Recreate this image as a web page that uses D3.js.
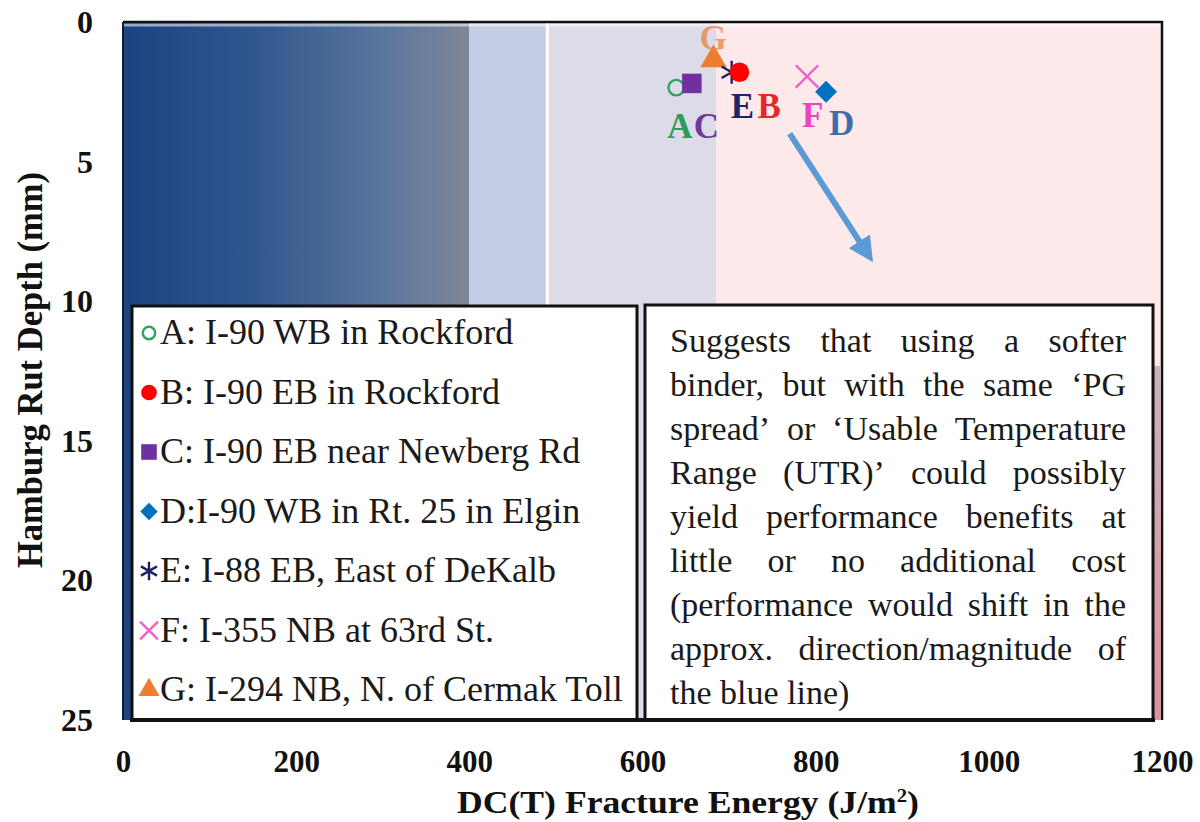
<!DOCTYPE html>
<html>
<head>
<meta charset="utf-8">
<script src="https://cdn.jsdelivr.net/npm/d3@7"></script>
<style>
  html, body { margin: 0; padding: 0; background: #ffffff; }
  svg { display: block; }
  text { font-family: "Liberation Serif", "Times New Roman", serif; }
</style>
</head>
<body>
<svg id="chart" width="1200" height="822" font-family="'Liberation Serif', 'Times New Roman', serif"></svg>
<script>
// ---- data ----
const xTicks = [0, 200, 400, 600, 800, 1000, 1200];
const yTicks = [0, 5, 10, 15, 20, 25];

const siteCodes = ["A", "B", "C", "D", "E", "F", "G"];
const siteNames = [
  "A: I-90 WB in Rockford",
  "B: I-90 EB in Rockford",
  "C: I-90 EB near Newberg Rd",
  "D:I-90 WB in Rt. 25 in Elgin",
  "E: I-88 EB, East of DeKalb",
  "F: I-355 NB at 63rd St.",
  "G: I-294 NB, N. of Cermak Toll"
];
const fractureEnergy = [639, 712, 657, 812, 703, 790, 682];   // J/m²
const rutDepth = [2.35, 1.8, 2.2, 2.5, 1.8, 1.95, 1.35];       // mm

// zone boundaries along the fracture-energy axis
const zoneEdges = [0, 400, 490, 685, 1200];

// suggested shift of performance (start, end)
const shiftX = [770, 868];
const shiftY = [4.0, 8.7];

const noteLines = [
  "Suggests that using a softer",
  "binder, but with the same \u2018PG",
  "spread\u2019 or \u2018Usable Temperature",
  "Range (UTR)\u2019 could possibly",
  "yield performance benefits at",
  "little or no additional cost",
  "(performance would shift in the",
  "approx. direction/magnitude of",
  "the blue line)"
];

// ---- styling ----
const serif = "'Liberation Serif', 'Times New Roman', serif";
const markerColor = ["#2ea35c", "#ff0000", "#7030a0", "#0070c0", "#1f2060", "#f060c8", "#ed7d31"];
const labelColor  = ["#2e9b5b", "#e42828", "#6a3c9c", "#3d6ea8", "#1b2568", "#ee44c0", "#e68a4a"];
const zoneFill = ["url(#zoneGrad)", "#c5cde6", "#dddbe8", "#fde9e9"];

const svg = d3.select("#chart");
const x = d3.scaleLinear().domain([0, 1200]).range([123, 1162]);
const y = d3.scaleLinear().domain([0, 25]).range([22, 720]);

const defs = svg.append("defs");
const zg = defs.append("linearGradient").attr("id", "zoneGrad")
  .attr("x1", "0%").attr("x2", "100%").attr("y1", "0%").attr("y2", "0%");
[["0%", "#1b4381"], ["40%", "#33588f"], ["75%", "#5a769c"], ["100%", "#7f8797"]]
  .forEach(([o, c]) => zg.append("stop").attr("offset", o).attr("stop-color", c));
const sg = defs.append("linearGradient").attr("id", "edgeGrad")
  .attr("x1", "0%").attr("x2", "0%").attr("y1", "0%").attr("y2", "100%");
[["0%", "#c9b4bb"], ["100%", "#d9939c"]]
  .forEach(([o, c]) => sg.append("stop").attr("offset", o).attr("stop-color", c));

// ---- background zones ----
const zones = d3.range(zoneEdges.length - 1).map(i => ({ x0: zoneEdges[i], x1: zoneEdges[i + 1], fill: zoneFill[i] }));
svg.append("g").selectAll("rect").data(zones).join("rect")
  .attr("x", d => x(d.x0))
  .attr("width", d => x(d.x1) - x(d.x0))
  .attr("y", y(0))
  .attr("height", y(25) - y(0))
  .attr("fill", d => d.fill);

// white divider at the 490 boundary
svg.append("line")
  .attr("x1", x(zoneEdges[2])).attr("x2", x(zoneEdges[2]))
  .attr("y1", y(0)).attr("y2", y(25))
  .attr("stroke", "#ffffff").attr("stroke-width", 3);

// light rim along the top of the plot area
svg.append("line")
  .attr("x1", x(0)).attr("x2", x(1200)).attr("y1", y(0) + 3).attr("y2", y(0) + 3)
  .attr("stroke", "#ffffff").attr("stroke-opacity", 0.55).attr("stroke-width", 3);

// plot frame (top and right)
svg.append("path")
  .attr("d", `M${x(0)},${y(0)} H${x(1200)} V${y(25)}`)
  .attr("fill", "none").attr("stroke", "#111").attr("stroke-width", 2.5);
svg.append("line")
  .attr("x1", x(0)).attr("x2", x(0)).attr("y1", y(0)).attr("y2", y(25))
  .attr("stroke", "#0e1f3c").attr("stroke-width", 2);

// ---- axes ----
const xAxis = svg.append("g").attr("transform", `translate(0,${y(25) + 52})`)
  .call(d3.axisBottom(x).tickValues(xTicks).tickSize(0).tickFormat(d3.format("d")));
xAxis.select(".domain").remove();
xAxis.selectAll("text")
  .attr("dy", 0).attr("y", 0)
  .style("font-family", serif)
  .style("font-size", "31px").style("font-weight", "bold").attr("fill", "#111");

const yAxis = svg.append("g").attr("transform", "translate(93,0)")
  .call(d3.axisLeft(y).tickValues(yTicks).tickSize(0).tickFormat(d3.format("d")));
yAxis.select(".domain").remove();
yAxis.selectAll("text")
  .attr("x", 0).attr("dy", "0.33em")
  .style("font-family", serif)
  .style("font-size", "32px").style("font-weight", "bold").attr("fill", "#111");

const xTitle = svg.append("text")
  .attr("x", 688).attr("y", 813)
  .attr("text-anchor", "middle")
  .style("font-family", serif)
  .style("font-size", "31px").style("font-weight", "bold").attr("fill", "#111")
  .attr("textLength", 462).attr("lengthAdjust", "spacingAndGlyphs");
xTitle.append("tspan").text("DC(T) Fracture Energy (J/m");
xTitle.append("tspan").text("2").attr("dy", -11).style("font-size", "18px");
xTitle.append("tspan").text(")").attr("dy", 11);

svg.append("text")
  .attr("transform", "translate(42,370) rotate(-90)")
  .attr("text-anchor", "middle")
  .style("font-family", serif)
  .style("font-size", "36px").style("font-weight", "bold").attr("fill", "#111")
  .attr("textLength", 396).attr("lengthAdjust", "spacingAndGlyphs")
  .text("Hamburg Rut Depth (mm)");

// ---- marker shapes ----
const shapeOf = [
  { type: d3.symbolCircle, size: 190, fill: false },
  { type: d3.symbolCircle, size: 300, fill: true },
  { type: d3.symbolSquare, size: 380, fill: true },
  { type: d3.symbolSquare, size: 240, fill: true, rot: 45 },
  { type: d3.symbolAsterisk, size: 380, fill: false },
  { type: d3.symbolTimes, size: 330, fill: false },
  { type: d3.symbolTriangle, size: 300, fill: true }
];
function drawMarker(g, i, cx, cy, scale) {
  const s = shapeOf[i];
  g.append("path")
    .attr("d", d3.symbol().type(s.type).size(s.size * scale * scale)())
    .attr("transform", `translate(${cx},${cy}) rotate(${s.rot || 0})`)
    .attr("fill", s.fill ? markerColor[i] : "none")
    .attr("stroke", markerColor[i])
    .attr("stroke-width", s.fill ? 0 : 2.4);
}

// ---- shift arrow ----
defs.append("marker").attr("id", "arrowHead")
  .attr("viewBox", "0 0 10 10").attr("refX", 6).attr("refY", 5)
  .attr("markerWidth", 4.2).attr("markerHeight", 4.2)
  .attr("orient", "auto")
  .append("path").attr("d", "M0,0 L10,5 L0,10 Z").attr("fill", "#5b9bd5");
svg.append("line")
  .attr("x1", x(shiftX[0])).attr("y1", y(shiftY[0]))
  .attr("x2", x(shiftX[1]) - 7).attr("y2", y(shiftY[1]) - 11)
  .attr("stroke", "#5b9bd5").attr("stroke-width", 6)
  .attr("marker-end", "url(#arrowHead)");

// ---- site points ----
const pts = svg.append("g");
const drawOrder = [0, 2, 6, 4, 1, 5, 3];
drawOrder.forEach(i => drawMarker(pts, i, x(fractureEnergy[i]), y(rutDepth[i]), 1));

// site letters beside the points
const labelOffset = [[-9, 50], [18, 46], [2, 55], [3, 43], [-1, 46], [-5, 51], [-14, -10]];
siteCodes.forEach((c, i) => {
  svg.append("text")
    .attr("x", x(fractureEnergy[i]) + labelOffset[i][0])
    .attr("y", y(rutDepth[i]) + labelOffset[i][1])
    .style("font-family", serif)
    .style("font-size", "35px").style("font-weight", "bold")
    .attr("fill", labelColor[i])
    .attr("fill-opacity", c === "G" ? 0.8 : 1)
    .text(c);
});

// ---- legend ----
const legend = svg.append("g");
legend.append("rect")
  .attr("x", 132).attr("y", 306).attr("width", 505).attr("height", 414)
  .attr("fill", "#ffffff").attr("stroke", "#111").attr("stroke-width", 3);
siteNames.forEach((name, i) => {
  const cy = 333 + i * 59.5;
  drawMarker(legend, i, 149, cy, 0.8);
  legend.append("text")
    .attr("x", 160).attr("y", cy + 11)
    .style("font-family", serif)
    .style("font-size", "36px").attr("fill", "#1a1a1a")
    .text(name);
});

// ---- note box ----
svg.append("rect")
  .attr("x", 1153).attr("y", 366).attr("width", 8).attr("height", 354)
  .attr("fill", "url(#edgeGrad)");
const note = svg.append("g");
note.append("rect")
  .attr("x", 645).attr("y", 305).attr("width", 508).attr("height", 415)
  .attr("fill", "#ffffff").attr("stroke", "#111").attr("stroke-width", 3);

const noteLeft = 670, noteRight = 1126;
noteLines.forEach((line, i) => {
  const words = line.split(" ");
  const by = 352 + i * 44;
  const nodes = words.map(w => note.append("text")
    .attr("y", by)
    .style("font-family", serif)
    .style("font-size", "34px").attr("fill", "#1a1a1a").text(w));
  const widths = nodes.map(n => n.node().getComputedTextLength());
  const last = i === noteLines.length - 1;
  const gap = last || words.length < 2 ? 8.5 : (noteRight - noteLeft - d3.sum(widths)) / (words.length - 1);
  let cx = noteLeft;
  nodes.forEach((n, j) => { n.attr("x", cx); cx += widths[j] + gap; });
});

// bottom edge under both boxes
svg.append("line")
  .attr("x1", 130).attr("x2", 1155).attr("y1", 720).attr("y2", 720)
  .attr("stroke", "#111").attr("stroke-width", 4);
</script>
</body>
</html>
